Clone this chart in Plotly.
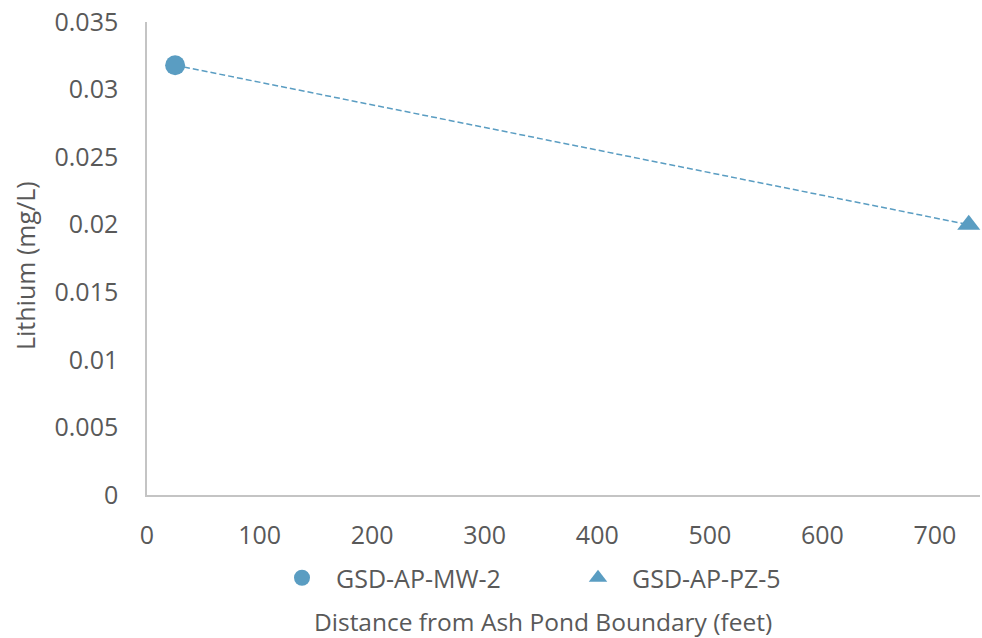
import plotly.graph_objects as go

names = ["GSD-AP-MW-2", "GSD-AP-PZ-5"]
distance = [25, 730]
lithium = [0.0318, 0.0200]
symbols = ["circle", "triangle-up"]
x_ticks = [0, 100, 200, 300, 400, 500, 600, 700]

color = "#5A9DC2"
font_color = "#595959"
axis_color = "#C4C4C4"
FONT = "Open Sans"
FS = 25

L, R, T, B = 147, 2, 22, 143
W, H = 982, 638
PW = W - L - R
PH = H - T - B

fig = go.Figure()
fig.add_trace(go.Scatter(
    x=distance, y=lithium, mode="lines",
    line=dict(color=color, width=1.5, dash="6px,3px"),
    showlegend=False, hoverinfo="skip", cliponaxis=False))
for n, xv, yv, s in zip(names, distance, lithium, symbols):
    fig.add_trace(go.Scatter(
        x=[xv], y=[yv], mode="markers", name=n, cliponaxis=False,
        marker=dict(symbol=s, size=20, color=color)))

fig.update_layout(
    width=W, height=H,
    margin=dict(l=L, r=R, t=T, b=B, autoexpand=False),
    paper_bgcolor="white", plot_bgcolor="white",
    font=dict(family=FONT, size=FS, color=font_color),
    showlegend=True,
    legend=dict(orientation="h", x=(288 - 20 - L) / PW, xanchor="left",
                y=-(567 - 12 - (T + PH)) / PH, yanchor="top",
                font=dict(size=FS, color=font_color), entrywidth=223, itemwidth=58),
    xaxis=dict(range=[0, 740], tickvals=x_ticks, automargin=False,
               showgrid=False, zeroline=False, showline=True, linecolor=axis_color,
               linewidth=1.5, ticks="", ticklabelstandoff=17,
               tickfont=dict(size=FS, color=font_color)),
    yaxis=dict(range=[0, 0.035], dtick=0.005, tickformat="~g", automargin=False,
               showgrid=False, zeroline=False, showline=True, linecolor=axis_color,
               linewidth=1.5, ticks="", ticklabelstandoff=22,
               tickfont=dict(size=FS, color=font_color)),
)
fig.add_annotation(text="Lithium (mg/L)", xref="paper", yref="paper",
                   x=(25 - L) / PW, y=(T + PH - 266) / PH, textangle=-90,
                   xanchor="center", yanchor="middle", showarrow=False,
                   font=dict(size=FS, color=font_color))
fig.add_annotation(text="Distance from Ash Pond Boundary (feet)", xref="paper", yref="paper",
                   x=(543 - L) / PW, y=-(621 - (T + PH)) / PH, xanchor="center", yanchor="middle",
                   showarrow=False, font=dict(size=24.5, color=font_color))
fig.write_html("out.html", config={"displayModeBar": False},
               post_script="document.body.style.margin='0';document.body.style.overflow='hidden';")
